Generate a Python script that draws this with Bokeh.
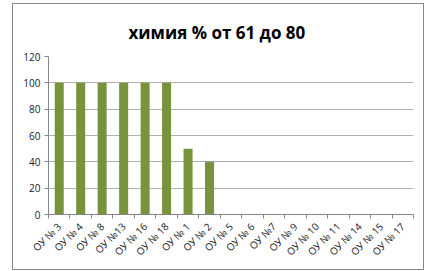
import math
from bokeh.plotting import figure
from bokeh.models import Range1d, FixedTicker
from bokeh.embed import file_html
from bokeh.resources import INLINE

categories = ["ОУ № 3", "ОУ № 4", "ОУ № 8", "ОУ №13", "ОУ № 16", "ОУ № 18",
              "ОУ № 1", "ОУ № 2", "ОУ № 5", "ОУ № 6", "ОУ №7", "ОУ № 9",
              "ОУ № 10", "ОУ № 11", "ОУ № 14", "ОУ № 15", "ОУ № 17"]
values = [100, 100, 100, 100, 100, 100, 50, 40, 0, 0, 0, 0, 0, 0, 0, 0, 0]
y_ticks = [0, 20, 40, 60, 80, 100, 120]
title_text = "химия % от 61 до 80"

n = len(categories)
xs = list(range(1, n + 1))

W, H = 412, 267
p = figure(width=W, height=H, output_backend="svg", toolbar_location=None,
           x_range=Range1d(0.5, n + 0.5), y_range=Range1d(0, 120),
           min_border_left=35, min_border_right=12, min_border_top=52,
           min_border_bottom=57, title=title_text,
           styles={"margin-left": "12px", "margin-top": "3px",
                   "border": "1px solid #888888"})
p.background_fill_color = "white"
p.border_fill_color = "white"
p.outline_line_color = None

p.title.align = "left"
p.title.offset = 80
p.title.standoff = 26
p.title.text_font = "Open Sans"
p.title.text_font_style = "bold"
p.title.text_font_size = "17px"
p.title.text_color = "black"

p.vbar(x=xs, top=values, width=0.42, fill_color="#77933C", line_color=None)

# x axis
xa = p.xaxis[0]
xa.ticker = FixedTicker(ticks=xs, minor_ticks=[i + 0.5 for i in range(0, n + 1)])
xa.major_label_overrides = {x: c for x, c in zip(xs, categories)}
xa.major_label_orientation = math.pi / 4
xa.major_tick_line_color = None
xa.minor_tick_line_color = "#868686"
xa.minor_tick_out = 4
xa.minor_tick_in = 0
xa.axis_line_color = "#868686"
xa.major_label_text_font = "Open Sans"
xa.major_label_text_font_size = "10px"
xa.major_label_text_color = "#1a1a1a"
xa.major_label_standoff = 4

ya = p.yaxis[0]
ya.ticker = FixedTicker(ticks=y_ticks)
ya.minor_tick_line_color = None
ya.major_tick_line_color = "#868686"
ya.major_tick_out = 4
ya.major_tick_in = 0
ya.axis_line_color = "#868686"
ya.major_label_text_font = "Open Sans"
ya.major_label_text_font_size = "10px"
ya.major_label_text_color = "#1a1a1a"
ya.major_label_standoff = 4

p.xgrid.grid_line_color = None
p.ygrid.grid_line_color = "#b0b0b0"

open("out.html", "w").write(file_html(p, INLINE))
